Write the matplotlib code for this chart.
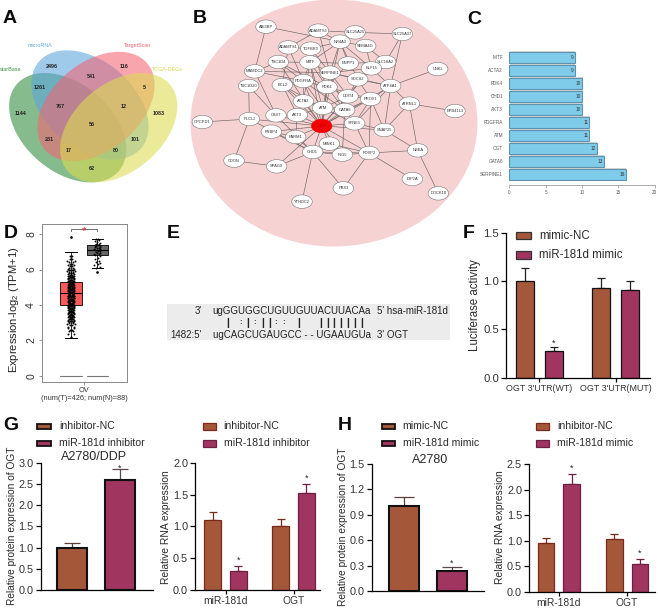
import matplotlib
matplotlib.use("Agg")
import matplotlib.pyplot as plt
from matplotlib.patches import Ellipse, Rectangle

plt.rcParams['font.family'] = ['Liberation Sans', 'DejaVu Sans']
plt.rcParams['mathtext.default'] = 'regular'

W, H = 658, 608
fig = plt.figure(figsize=(W / 100, H / 100), dpi=100)
bg = fig.add_axes([0, 0, 1, 1], zorder=0)
bg.set_xlim(0, W); bg.set_ylim(H, 0); bg.axis('off')
TOP = fig.add_axes([0, 0, 1, 1], zorder=20)
TOP.set_xlim(0, W); TOP.set_ylim(H, 0); TOP.axis('off'); TOP.patch.set_alpha(0)

def rect_ax(l, t, r, b, z=5):
    return fig.add_axes([l / W, 1 - b / H, (r - l) / W, (b - t) / H], zorder=z, facecolor='none')

# ---------- panel letters
panel_letters = ['A', 'B', 'C', 'D', 'E', 'F', 'G', 'H']
letter_xy = [(3, 23), (193, 23), (467, 24), (4, 238), (167, 238), (463, 238), (3, 430), (338, 430)]
for s, (x, y) in zip(panel_letters, letter_xy):
    TOP.text(x, y, s, fontsize=14, fontweight='bold', va='baseline', ha='left', color='#0a0a0a')

# ---------- A: Venn
venn_names = ['starBase', 'microRNA', 'TargetScan', 'TCGA-DEGs']
venn_colors = ['#2f8a3c', '#5aa5dc', '#f56473', '#dcdc50']
venn_label_colors = ['#3c8f48', '#6aaee0', '#f0606e', '#d8d84a']
venn_centers = [(67.7, 127.7), (90, 105), (96, 106.5), (118.7, 127.7)]
venn_angles = [40, 40, -40, -40]
venn_label_xy = [(0, 69.5), (28, 45.5), (124, 45.5), (152, 69.5)]
for c, col, ang in zip(venn_centers, venn_colors, venn_angles):
    bg.add_patch(Ellipse(c, 134, 88, angle=ang, fc=col, ec='none', alpha=0.58))
for n, xy, col in zip(venn_names, venn_label_xy, venn_label_colors):
    bg.text(*xy, n, fontsize=3.9, color=col, ha='left', va='center')
venn_counts = ['2496', '116', '541', '1261', '5', '767', '12', '1144', '1083', '56',
               '231', '101', '17', '80', '62']
venn_count_xy = [(52.3, 66), (124.3, 66), (91.7, 77), (39.3, 87.7), (144.3, 87.7), (60, 106),
                 (123.7, 106), (21, 113.7), (158.3, 113.7), (92.3, 124.7), (49, 139.3),
                 (135, 139.3), (68.3, 150.3), (116, 150.3), (92.3, 168.7)]
for s, (x, y) in zip(venn_counts, venn_count_xy):
    bg.text(x, y, s, fontsize=3.9, color='#222222', ha='center', va='center', fontweight='bold')

# ---------- B: network
bg.add_patch(Ellipse((334, 123), 287, 247, fc='#f6d2d2', ec='none', zorder=1))
node_names = ['ABI3BP', 'ADAMTS5', 'SLC25A25', 'SLC25A37', 'NR4A3', 'ADAMTS1', 'TGFBR3', 'SEMA4G',
              'TBC1D4', 'MITF', 'ENPP1', 'SLC18A2', 'KLF15', 'MAMDC2', 'SERPINE1', 'UNKL', 'SOCS2',
              'BCL2', 'PDGFRA', 'TBC1D20', 'PDK4', 'ATP8A1', 'DDIT4', 'PROX1', 'ATRNL1', 'ACTA2',
              'ATM', 'GATA6', 'EPB41L3', 'AKT3', 'CBX7', 'PLCL2', 'GPCPD1', 'OGT', 'SYNE1', 'SNAP25',
              'FNBP4', 'PARM1', 'MINK1', 'CHD1', 'ING5', 'FOXP2', 'NBEA', 'CDON', 'SPAG9', 'DIP2A',
              'PBX3', 'DOCK10', 'YTHDC2']
node_x = [228, 385, 495, 637, 450, 295, 362, 527, 265, 360, 475, 587, 544, 194, 420, 743, 503,
          277, 340, 176, 411, 602, 474, 542, 658, 340, 398, 464, 795, 322, 258, 178, 37, 395, 494, 583,
          244, 317, 418, 368, 457, 537, 683, 132, 260, 667, 460, 745, 336]
node_y = [80, 92, 97, 102, 125, 142, 146, 138, 186, 187, 190, 186, 205, 214, 218, 207, 238,
          255, 243, 258, 261, 258, 289, 297, 311, 304, 324, 330, 333, 345, 346, 357, 366, 378, 370, 390,
          395, 411, 431, 456, 464, 459, 451, 482, 499, 537, 565, 580, 605]
pos = {n: (190 + x / 3, y / 3) for n, x, y in zip(node_names, node_x, node_y)}
edges = '''ABI3BP-MAMDC2 ABI3BP-NR4A3 SLC25A25-SLC25A37 SLC25A37-SLC18A2 SLC25A37-ATP8A1 ATP8A1-UNKL
ATRNL1-EPB41L3 ATP8A1-ATRNL1 ATRNL1-SNAP25 ATRNL1-NBEA SNAP25-NBEA NBEA-DOCK10 FOXP2-NBEA FOXP2-DIP2A
FOXP2-PBX3 CHD1-PBX3 CHD1-YTHDC2 CDON-SPAG9 CDON-PLCL2 PLCL2-GPCPD1 PLCL2-TBC1D20 PLCL2-CHD1 PLCL2-OGT
SPAG9-OGT OGT-ATM OGT-GATA6 OGT-AKT3 OGT-ACTA2 OGT-PDK4 OGT-PDGFRA OGT-SERPINE1 OGT-MITF OGT-SYNE1
OGT-SNAP25 OGT-PROX1 OGT-DDIT4 OGT-FNBP4 OGT-PARM1 OGT-MINK1 OGT-CHD1 OGT-CBX7 OGT-FOXP2 OGT-ING5
OGT-KLF15 OGT-ATP8A1 OGT-BCL2 OGT-TBC1D4 OGT-NR4A3 MITF-TBC1D4 MITF-NR4A3 MITF-ENPP1 MITF-SERPINE1
MITF-PDGFRA MITF-ACTA2 MITF-PDK4 MITF-ATM MITF-TGFBR3 NR4A3-TGFBR3 NR4A3-KLF15 NR4A3-SERPINE1 NR4A3-SOCS2
NR4A3-ENPP1 NR4A3-ADAMTS5 NR4A3-SEMA4G ADAMTS5-ADAMTS1 ADAMTS5-SLC25A25 ADAMTS5-SERPINE1 ADAMTS1-TGFBR3
ADAMTS1-PDGFRA ADAMTS1-BCL2 TBC1D4-MAMDC2 TBC1D4-PDGFRA TBC1D4-PDK4 MAMDC2-CBX7 MAMDC2-PDGFRA MAMDC2-SERPINE1
SERPINE1-KLF15 SERPINE1-PDK4 SERPINE1-SOCS2 SERPINE1-DDIT4 SERPINE1-GATA6 SERPINE1-ATP8A1 KLF15-ATP8A1 KLF15-SOCS2
KLF15-SEMA4G KLF15-SLC18A2 KLF15-DDIT4 SOCS2-PROX1 SOCS2-DDIT4 SOCS2-ATP8A1 ENPP1-SLC18A2 ENPP1-PDK4
PDGFRA-PDK4 PDGFRA-ACTA2 PDGFRA-ATM PDGFRA-GATA6 BCL2-ATM BCL2-AKT3 BCL2-ACTA2 PDK4-ATM PDK4-GATA6 PDK4-DDIT4
PDK4-PROX1 DDIT4-GATA6 DDIT4-ATM DDIT4-PROX1 PROX1-ATP8A1 PROX1-SNAP25 PROX1-FOXP2 PROX1-GATA6 ATP8A1-SNAP25
ATP8A1-SYNE1 ACTA2-ATM ACTA2-AKT3 ACTA2-GATA6 ATM-GATA6 ATM-AKT3 ATM-SYNE1 GATA6-SYNE1 GATA6-ING5 SYNE1-FOXP2
SYNE1-SNAP25 SYNE1-PROX1 AKT3-CBX7 AKT3-PARM1 CBX7-CHD1 FNBP4-PARM1 FNBP4-CHD1 PARM1-CHD1 MINK1-CHD1 MINK1-ING5
MINK1-FOXP2 CHD1-ING5 CHD1-FOXP2 CHD1-SPAG9 ING5-FOXP2 SEMA4G-SLC18A2 TBC1D20-CBX7 TGFBR3-SERPINE1 TGFBR3-PDK4'''.split()
for e in edges:
    a, b = e.split('-')
    bg.plot([pos[a][0], pos[b][0]], [pos[a][1], pos[b][1]], color='#6f6464', lw=0.45, zorder=2)
for n in node_names:
    x, y = pos[n]
    red = n == 'OGT'
    bg.add_patch(Ellipse((x, y), 20.5, 13.5, fc='#f40000' if red else 'white',
                         ec='#f40000' if red else '#777777', lw=0.4, zorder=3))
    bg.text(x, y, n, fontsize=2.9, ha='center', va='center', color='#a00000' if red else '#333333', zorder=4)

# ---------- C: hub-gene bars
hub_genes = ['SERPINE1', 'GATA6', 'OGT', 'ATM', 'PDGFRA', 'AKT3', 'CHD1', 'PDK4', 'ACTA2', 'MITF']
hub_counts = [16, 13, 12, 11, 11, 10, 10, 10, 9, 9]
axc = rect_ax(509.3, 50, 654.7, 185.3)
axc.set_xlim(0, 20)
axc.set_ylim((185.3 - 174.3) / -13, (185.3 - 50) / 13 - 11 / 13)
hy = list(range(len(hub_genes)))
axc.barh(hy, hub_counts, height=0.93, color='#d6d6d6', left=0.08, edgecolor='none')
axc.barh(hy, hub_counts, height=0.81, color='#7fcbea', edgecolor='#5f93ad', linewidth=0.8)
for y, v in zip(hy, hub_counts):
    axc.text(v - 0.12, y, str(v), fontsize=3.4, ha='right', va='center', color='#333333')
axc.set_yticks(hy, hub_genes)
axc.tick_params(axis='y', length=0, labelsize=3.3, labelcolor='#555555', pad=4.5)
axc.set_xticks([0, 5, 10, 15, 20])
axc.tick_params(axis='x', length=2, width=0.4, color='#777777', labelsize=3.3, labelcolor='#555555', pad=1.5)
for s in ['top', 'right', 'left']:
    axc.spines[s].set_visible(False)
axc.spines['bottom'].set_color('#888888'); axc.spines['bottom'].set_linewidth(0.5)

# ---------- D: GEPIA box plot
axd = rect_ax(41.7, 224, 127.3, 382.3)
axd.set_xlim(-0.114, 3.14)
axd.set_ylim(-0.37, 8.57)
tumor_stats = dict(med=4.65, q1=4.0, q3=5.3, whislo=2.15, whishi=7.0, fliers=[7.85])
normal_stats = dict(med=7.1, q1=6.8, q3=7.4, whislo=6.1, whishi=7.75, fliers=[5.85])
zero_stats = dict(med=0, q1=0, q3=0, whislo=0, whishi=0, fliers=[])
box_pos = [1, 2]
box_cols = ['#f85a5a', '#666666']
bp = axd.bxp([tumor_stats, normal_stats], positions=box_pos, widths=0.81, capwidths=0.42, patch_artist=True,
             flierprops=dict(marker='o', ms=0.9, mfc='k', mec='k'),
             medianprops=dict(color='black', lw=0.8), whiskerprops=dict(lw=0.6),
             capprops=dict(lw=0.7), boxprops=dict(lw=0.6), zorder=2)
for b, c in zip(bp['boxes'], box_cols):
    b.set_facecolor(c)
axd.bxp([zero_stats, zero_stats], positions=box_pos, widths=0.81, capwidths=0.05, showfliers=False,
        medianprops=dict(color='#777777', lw=0.8), whiskerprops=dict(lw=0.4, color='#777777'),
        capprops=dict(lw=0.4, color='#777777'), boxprops=dict(lw=0.4, color='#777777'))
tumor_vals = [2.2, 2.35, 2.5, 2.6, 2.7, 2.75, 2.85, 2.9, 3.0, 3.05, 3.1, 3.12, 3.15, 3.2, 3.22, 3.25, 3.3, 3.33, 3.35,
              3.4, 3.42, 3.45, 3.48, 3.5, 3.52, 3.55, 3.58, 3.6, 3.62, 3.65, 3.68, 3.7, 3.72, 3.75, 3.78, 3.8, 3.82,
              3.85, 3.88, 3.9, 3.92, 3.95, 3.98, 4.0, 4.02, 4.05, 4.08, 4.1, 4.12, 4.15, 4.18, 4.2, 4.22, 4.25, 4.28,
              4.3, 4.32, 4.35, 4.38, 4.4, 4.42, 4.45, 4.48, 4.5, 4.52, 4.55, 4.58, 4.6, 4.62, 4.65, 4.68, 4.7, 4.72,
              4.75, 4.78, 4.8, 4.82, 4.85, 4.88, 4.9, 4.92, 4.95, 4.98, 5.0, 5.02, 5.05, 5.08, 5.1, 5.12, 5.15, 5.18,
              5.2, 5.22, 5.25, 5.28, 5.3, 5.33, 5.36, 5.4, 5.43, 5.46, 5.5, 5.53, 5.56, 5.6, 5.63, 5.66, 5.7, 5.74,
              5.78, 5.82, 5.86, 5.9, 5.95, 6.0, 6.05, 6.1, 6.18, 6.25, 6.32, 6.4, 6.5, 6.62, 6.75]
tumor_off = [0.0, -0.1, 0.06, -0.05, 0.1, -0.12, 0.03, 0.14, -0.07, 0.09, -0.02, 0.12, -0.1, 0.05, -0.06, 0.02, 0.1, -0.03,
             0.07, -0.09, 0.04, -0.05, 0.11, -0.01, 0.08, -0.11, 0.03, -0.07, 0.06, 0.0, -0.04, 0.1, -0.09, 0.05, -0.02, 0.08,
             -0.12, 0.02, 0.12, -0.06, 0.04, -0.1, 0.07, -0.03, 0.11, -0.08, 0.01, 0.09, -0.05, 0.06, -0.11, 0.03, 0.13, -0.01,
             -0.08, 0.08, -0.04, 0.05, -0.12, 0.1, 0.0, -0.07, 0.03, 0.12, -0.1, 0.06, -0.02, 0.09, -0.06, 0.02, 0.11, -0.09,
             0.04, -0.03, 0.07, -0.12, 0.0, 0.1, -0.05, 0.05, -0.08, 0.12, 0.02, -0.11, 0.08, -0.01, 0.04, -0.06, 0.11, -0.09,
             0.06, 0.0, -0.04, 0.09, -0.12, 0.03, 0.13, -0.07, 0.05, -0.02, 0.1, -0.1, 0.07, -0.05, 0.02, 0.12, -0.08, 0.04,
             -0.11, 0.09, 0.0, -0.06, 0.15, 0.06, -0.03, 0.1, -0.09, 0.04, 0.12, -0.04, 0.07, 0.14, -0.02, 0.05]
normal_vals = [6.1, 6.15, 6.25, 6.3, 6.35, 6.45, 6.5, 6.6, 6.65, 6.75, 6.8, 6.85, 6.9, 6.92, 6.95, 7.0, 7.02, 7.05, 7.08, 7.1,
               7.12, 7.15, 7.18, 7.2, 7.22, 7.25, 7.28, 7.3, 7.33, 7.36, 7.4, 7.43, 7.46, 7.5, 7.55, 7.6, 7.65, 7.7, 7.75]
normal_off = [-0.05, 0.08, -0.1, 0.03, 0.1, -0.04, 0.06, -0.08, 0.02, 0.09, -0.06, 0.04, -0.1, 0.08, 0.0, -0.05, 0.1, 0.03, -0.08,
              0.06, -0.02, 0.09, -0.1, 0.04, 0.0, -0.06, 0.07, -0.03, 0.1, -0.08, 0.03, 0.06, -0.05, 0.09, 0.0, -0.07, 0.05, 0.02, -0.03]
# each tumour value is drawn on both sides of the box centre so the strip reads as dense as the reference
axd.scatter([1 + o for o in tumor_off], tumor_vals, s=2.0, c='black', lw=0, zorder=4)
axd.scatter([1 - o for o in tumor_off], tumor_vals, s=2.0, c='black', lw=0, zorder=4)
axd.scatter([2 + 1.2 * o for o in normal_off], normal_vals, s=1.8, c='black', lw=0, zorder=4)
axd.plot([1, 1, 2, 2], [8.15, 8.29, 8.29, 8.15], color='#555555', lw=0.6)
axd.text(1.5, 8.16, '*', color='#e82020', fontsize=8, ha='center', va='center')
axd.set_xticks([1.5], ['OV\n(num(T)=426; num(N)=88)'])
axd.tick_params(axis='x', labelsize=5.3, length=2, width=0.5, pad=1.5, color='#666666', labelcolor='#333333')
axd.set_yticks([0, 2, 4, 6, 8], ['0', '2', '4', '6', '8'], rotation=90, va='center')
axd.tick_params(axis='y', labelsize=7.5, length=2.5, width=0.5, pad=1.5, color='#666666', labelcolor='#333333')
for s in axd.spines.values():
    s.set_color('#888888'); s.set_linewidth(0.7)
TOP.text(14, 310, 'Expression-log$_2$ (TPM+1)', rotation=90, fontsize=8, ha='center', va='center', color='#222222')

# ---------- E: alignment
bg.add_patch(Rectangle((166.7, 304.3), 283.3, 35.7, fc='#ececec', ec='none', zorder=1))
seq_top = ['3\'', 'ugGGUGGCUGUUGUUACUUACAa', "5' hsa-miR-181d"]
seq_bot = ["1482:5'", 'ugCAGCUGAUGCC - - UGAAUGUa', "3' OGT"]
pair_marks = list('|:|:||::|') + list('|||||||')
pair_zoom_x = [232, 272, 294, 315, 338, 358, 378, 402, 445, 512, 532, 552, 572, 593, 614, 636]
for row, y in ((seq_top, 311), (seq_bot, 334.5)):
    bg.text(201.7, y, row[0], fontsize=7, ha='right', va='center', color='#222222', zorder=3)
    bg.text(212.7, y, row[1], fontsize=7, ha='left', va='center', color='#222222', zorder=3)
    bg.text(377, y, row[2], fontsize=7, ha='left', va='center', color='#222222', zorder=3)
for m, zx in zip(pair_marks, pair_zoom_x):
    bg.text(150 + zx / 3, 322.5, m, fontsize=7.5 if m == '|' else 6, fontweight='bold',
            ha='center', va='center', color='#222222', zorder=3)

# ---------- bar panels
BROWN = '#a5573a'
PLUM = '#a03560'
DARK = ['#111111', '#111111']
TINTED = ['#7a2a18', '#6e1f44']
def barpanel(box, ylim, yticks, ylabels, xlim, xs, vals, tops, width, edges_, lw, star_idx,
             xticks, xlabels, xfs, yfs=7.8, star_gap=0.0, cap=3.2, err_cols=None):
    ax = rect_ax(*box)
    ax.set_xlim(*xlim); ax.set_ylim(*ylim)
    cols = [BROWN, PLUM] * (len(vals) // 2)
    ecs = edges_ * (len(vals) // 2)
    errs = (err_cols or edges_) * (len(vals) // 2)
    ax.bar(xs, vals, width=width, color=cols, edgecolor=ecs, linewidth=lw, zorder=2)
    for x, v, t, c in zip(xs, vals, tops, errs):
        ax.errorbar([x], [v], yerr=[[0], [t - v]], color=c, capsize=cap, capthick=0.9, elinewidth=0.9, zorder=1)
    for i in star_idx:
        ax.text(xs[i], tops[i] + star_gap, '*', fontsize=6.5, ha='center', va='center', color='#222222')
    ax.set_yticks(yticks, ylabels)
    ax.set_xticks(xticks, xlabels)
    ax.tick_params(axis='y', labelsize=yfs, length=3.5, width=0.9, pad=1.5, labelcolor='#333333')
    ax.tick_params(axis='x', labelsize=xfs, length=3 if xlabels else 0, width=0.9, pad=1.5, labelcolor='#333333')
    for s in ['top', 'right']:
        ax.spines[s].set_visible(False)
    for s in ['left', 'bottom']:
        ax.spines[s].set_linewidth(0.9)
    return ax

def legend(x0, x1, ys, tx, labels, edge, lw, fs, h=6):
    for y, lab, c, e in zip(ys, labels, [BROWN, PLUM], edge):
        TOP.add_patch(Rectangle((x0, y - h / 2), x1 - x0, h, fc=c, ec=e, lw=lw))
        TOP.text(tx, y, lab, fontsize=fs, ha='left', va='center', color='#2a2a2a')

# F
f_groups = ["OGT 3'UTR(WT)", "OGT 3'UTR(MUT)"]
f_vals = [1.0, 0.28, 0.93, 0.91]
f_tops = [1.13, 0.32, 1.03, 1.0]
barpanel((506, 232.7, 650, 377.7), (0, 1.5), [0, .5, 1, 1.5], ['0.0', '0.5', '1.0', '1.5'],
         (-0.66, 4.36), [0, 1, 2.66, 3.66], f_vals, f_tops, 0.63, DARK, 0.9, [1], [0.5, 3.16], f_groups, 6.4,
         yfs=8.2, star_gap=0.035, cap=3.2, err_cols=['#222222', '#222222'])
legend(515.7, 530.7, [235.7, 255], 539.3, ['mimic-NC', 'miR-181d mimic'], ['#333333', '#333333'], 0.9, 8.3, h=7.5)
TOP.text(475, 305, 'Luciferase activity', rotation=90, fontsize=8.3, ha='center', va='center', color='#2a2a2a')

# G left
gl_vals = [1.0, 2.6]
gl_tops = [1.11, 2.85]
barpanel((40.7, 462.7, 152.7, 590), (0, 3), [0, .5, 1, 1.5, 2, 2.5, 3],
         ['0.0', '0.5', '1.0', '1.5', '2.0', '2.5', '3.0'],
         ((122 - 217) / 143, (458 - 217) / 143), [0, 1], gl_vals, gl_tops, 0.63, DARK, 1.5, [1], [], [], 7,
         star_gap=0.03, cap=5.8, err_cols=['#5a4038', '#5a4850'])
legend(37.3, 50.7, [426.3, 443.3], 59, ['inhibitor-NC', 'miR-181d inhibitor'], DARK, 1.3, 7.6, h=5)
TOP.text(94.3, 457.5, 'A2780/DDP', fontsize=9, ha='center', va='center', color='#2a2a2a')
TOP.text(11.7, 526, 'Relative protein expression of OGT', rotation=90, fontsize=7.3, ha='center', va='center', color='#2a2a2a')

# G right
rna_groups = ['miR-181d', 'OGT']
gr_vals = [1.1, 0.3, 1.0, 1.53]
gr_tops = [1.22, 0.37, 1.11, 1.66]
barpanel((195, 462.7, 320, 590), (0, 2), [0, .5, 1, 1.5, 2], ['0.0', '0.5', '1.0', '1.5', '2.0'],
         ((585 - 638) / 77, (960 - 638) / 77), [0, 1, 2.65, 3.65], gr_vals, gr_tops, 0.65, TINTED, 0.9,
         [1, 3], [0.5, 3.15], rna_groups, 7.4, star_gap=0.1)
legend(202.7, 216, [426.3, 443.3], 223.7, ['inhibitor-NC', 'miR-181d inhibitor'], TINTED, 0.9, 7.6, h=6.5)
TOP.text(166, 526.7, 'Relative RNA expression', rotation=90, fontsize=7.4, ha='center', va='center', color='#2a2a2a')

# H left
hl_vals = [1.0, 0.24]
hl_tops = [1.11, 0.28]
barpanel((371.7, 464, 484, 591), (0, 1.5), [0, .3, .6, .9, 1.2, 1.5],
         ['0.0', '0.3', '0.6', '0.9', '1.2', '1.5'],
         ((125 - 222) / 143, (462 - 222) / 143), [0, 1], hl_vals, hl_tops, 0.63, DARK, 1.5, [1], [], [], 7,
         star_gap=0.05, cap=7, err_cols=['#5a4038', '#5a4850'])
legend(382, 395, [426.3, 443.3], 402.7, ['mimic-NC', 'miR-181d mimic'], DARK, 1.3, 7.6, h=5)
TOP.text(430, 460, 'A2780', fontsize=9, ha='center', va='center', color='#2a2a2a')
TOP.text(343.3, 526.7, 'Relative protein expression of OGT', rotation=90, fontsize=7.3, ha='center', va='center', color='#2a2a2a')

# H right
hr_vals = [0.96, 2.12, 1.03, 0.55]
hr_tops = [1.05, 2.31, 1.13, 0.64]
barpanel((529, 464.3, 655, 591.7), (0, 2.5), [0, .5, 1, 1.5, 2, 2.5], ['0.0', '0.5', '1.0', '1.5', '2.0', '2.5'],
         ((597 - 648) / 77, (975 - 648) / 77), [0, 1, 2.66, 3.66], hr_vals, hr_tops, 0.65, TINTED, 0.9,
         [1, 3], [0.5, 3.16], rna_groups, 7.4, star_gap=0.11)
legend(536, 549.3, [426.3, 443.3], 557, ['inhibitor-NC', 'miR-181d mimic'], TINTED, 0.9, 7.6, h=6.5)
TOP.text(500, 526.7, 'Relative RNA expression', rotation=90, fontsize=7.4, ha='center', va='center', color='#2a2a2a')

fig.savefig('out.png', dpi=100)
